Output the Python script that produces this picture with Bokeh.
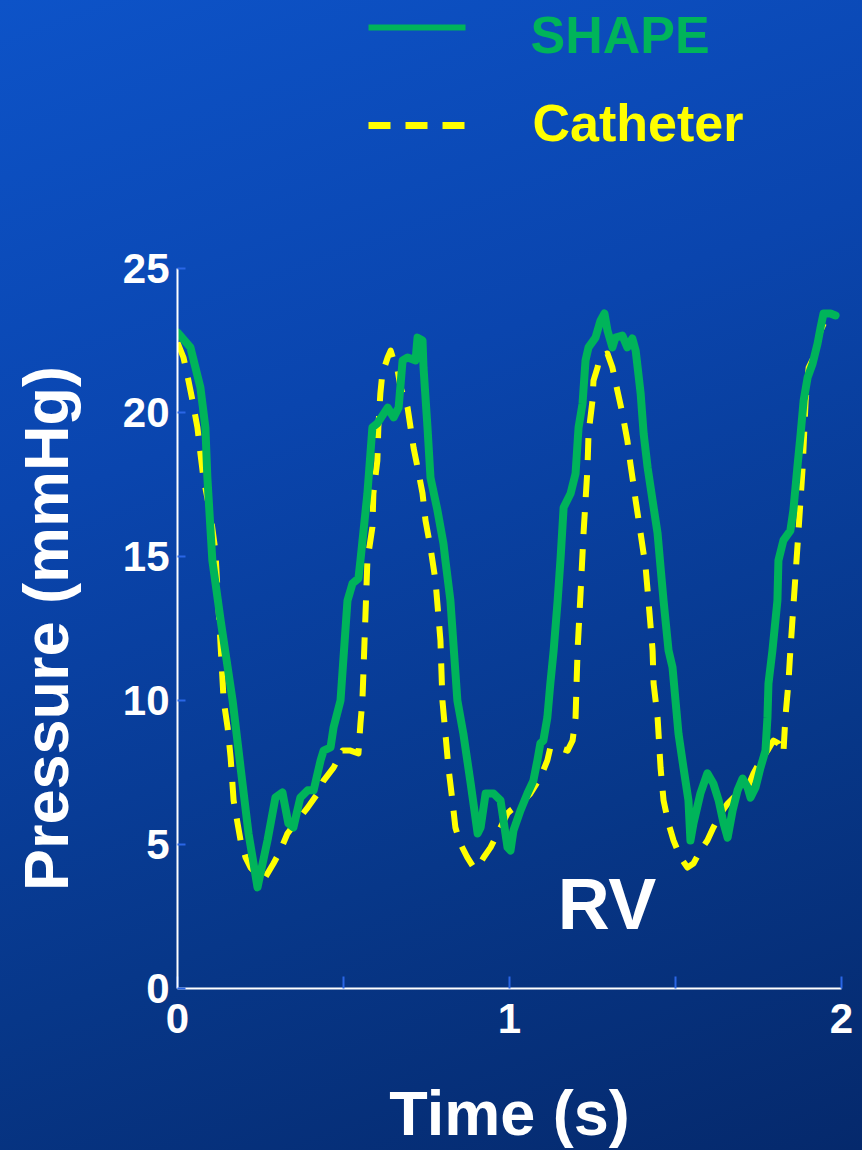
from bokeh.plotting import figure
from bokeh.layouts import column
from bokeh.models import Range1d, FixedTicker, Label, GlobalInlineStyleSheet
from bokeh.core.properties import value
from bokeh.embed import file_html
from bokeh.resources import INLINE

# ---------------- data ----------------
shape_t = [0.000, 0.039, 0.069, 0.084, 0.090, 0.099, 0.105, 0.130, 0.166, 0.190,
           0.214, 0.241, 0.271, 0.295, 0.316, 0.334, 0.349, 0.370, 0.392, 0.410,
           0.431, 0.440, 0.461, 0.470, 0.491, 0.512, 0.527, 0.545, 0.551, 0.572,
           0.587, 0.602, 0.633, 0.651, 0.666, 0.678, 0.693, 0.717, 0.723, 0.738,
           0.741, 0.753, 0.762, 0.783, 0.801, 0.807, 0.822, 0.843, 0.861, 0.883,
           0.904, 0.913, 0.928, 0.952, 0.973, 0.994, 1.003, 1.012, 1.033, 1.054,
           1.072, 1.084, 1.093, 1.102, 1.114, 1.123, 1.133, 1.145, 1.154, 1.163,
           1.184, 1.199, 1.208, 1.220, 1.229, 1.238, 1.259, 1.274, 1.286, 1.295,
           1.310, 1.319, 1.340, 1.355, 1.370, 1.380, 1.386, 1.395, 1.404, 1.416,
           1.431, 1.446, 1.455, 1.464, 1.479, 1.491, 1.500, 1.509, 1.524, 1.539,
           1.545, 1.554, 1.575, 1.596, 1.614, 1.630, 1.645, 1.657, 1.672, 1.687,
           1.702, 1.717, 1.726, 1.741, 1.756, 1.771, 1.777, 1.780, 1.792, 1.807,
           1.810, 1.825, 1.846, 1.855, 1.867, 1.877, 1.886, 1.898, 1.913, 1.928,
           1.937, 1.946, 1.967, 1.982]
shape_p = [22.78, 22.26, 20.87, 19.48, 17.74, 16.01, 14.86, 12.78, 10.00, 7.67,
           5.38, 3.51, 5.14, 6.63, 6.81, 5.73, 5.59, 6.63, 6.88, 6.88,
           7.92, 8.26, 8.37, 9.06, 10.00, 13.47, 14.06, 14.24, 14.86, 17.19,
           19.48, 19.62, 20.17, 19.83, 20.17, 21.81, 21.91, 21.81, 22.60, 22.50,
           21.56, 19.48, 17.74, 16.60, 15.45, 14.86, 13.47, 10.00, 8.85, 7.12,
           5.38, 5.59, 6.77, 6.77, 6.53, 4.90, 4.79, 5.49, 6.18, 6.77,
           7.22, 7.92, 8.51, 8.61, 9.41, 10.59, 11.74, 13.47, 14.97, 16.70,
           17.19, 17.88, 19.48, 20.31, 21.81, 22.26, 22.60, 23.19, 23.44, 22.85,
           22.26, 22.60, 22.67, 22.26, 22.57, 22.15, 21.56, 20.66, 19.27, 18.09,
           16.94, 15.80, 14.62, 13.47, 11.74, 11.15, 10.00, 8.85, 7.67, 6.53,
           5.14, 5.73, 6.77, 7.47, 7.12, 6.53, 5.73, 5.24, 6.18, 6.88,
           7.29, 6.98, 6.63, 6.98, 7.67, 8.26, 9.41, 10.59, 11.74, 13.47,
           14.86, 15.56, 15.90, 16.60, 18.09, 19.27, 20.42, 21.22, 21.70, 22.40,
           22.95, 23.44, 23.44, 23.37]

cath_t = [0.000, 0.018, 0.033, 0.045, 0.060, 0.069, 0.078, 0.099, 0.114, 0.139,
          0.151, 0.160, 0.169, 0.181, 0.190, 0.205, 0.220, 0.259, 0.289, 0.310,
          0.331, 0.361, 0.392, 0.422, 0.440, 0.470, 0.497, 0.521, 0.545, 0.551,
          0.557, 0.572, 0.587, 0.590, 0.602, 0.605, 0.611, 0.617, 0.633, 0.642,
          0.651, 0.663, 0.672, 0.693, 0.702, 0.711, 0.723, 0.738, 0.747, 0.762,
          0.777, 0.792, 0.798, 0.807, 0.816, 0.828, 0.837, 0.852, 0.873, 0.892,
          0.904, 0.922, 0.943, 0.964, 0.994, 1.003, 1.033, 1.063, 1.093, 1.114,
          1.123, 1.145, 1.175, 1.190, 1.199, 1.205, 1.214, 1.223, 1.235, 1.238,
          1.250, 1.253, 1.265, 1.274, 1.295, 1.310, 1.325, 1.340, 1.355, 1.364,
          1.373, 1.380, 1.395, 1.410, 1.416, 1.431, 1.434, 1.446, 1.455, 1.464,
          1.479, 1.494, 1.515, 1.536, 1.554, 1.575, 1.596, 1.614, 1.636, 1.657,
          1.675, 1.696, 1.717, 1.735, 1.756, 1.777, 1.795, 1.810, 1.825, 1.831,
          1.840, 1.846, 1.861, 1.870, 1.883, 1.892, 1.901, 1.916, 1.937, 1.961]
cath_p = [22.43, 21.91, 21.11, 20.42, 19.48, 18.58, 17.74, 16.49, 15.21, 10.00,
          9.06, 8.02, 6.53, 5.73, 5.14, 4.55, 4.20, 3.75, 4.34, 4.79,
          5.38, 5.83, 6.28, 6.77, 7.22, 7.67, 8.26, 8.26, 8.16, 9.20,
          10.00, 14.86, 16.01, 17.19, 18.33, 19.48, 20.66, 21.35, 21.91, 22.15,
          21.81, 21.46, 20.87, 20.17, 19.48, 18.78, 18.09, 17.19, 16.25, 15.31,
          14.17, 12.08, 10.00, 8.85, 7.67, 6.53, 5.59, 5.03, 4.55, 4.20,
          4.20, 4.55, 4.90, 5.38, 6.08, 6.18, 6.42, 6.77, 7.33, 7.92,
          8.37, 8.37, 8.26, 8.61, 9.41, 11.74, 13.72, 15.80, 18.09, 19.27,
          20.42, 21.11, 21.56, 21.98, 22.05, 21.56, 20.76, 19.97, 19.03, 18.23,
          17.53, 16.94, 15.80, 14.62, 13.82, 11.74, 10.59, 9.41, 7.67, 6.53,
          5.73, 5.14, 4.55, 4.20, 4.34, 4.79, 5.14, 5.59, 6.08, 6.42,
          6.63, 6.77, 6.98, 7.47, 7.92, 8.26, 8.61, 8.51, 8.16, 9.41,
          10.59, 11.74, 14.27, 15.80, 18.09, 20.42, 21.56, 21.91, 22.85, 23.44]

x_ticks = [0, 1, 2]
x_minor_ticks = [0.5, 1.5]
y_ticks = [0, 5, 10, 15, 20, 25]
series_names = ["SHAPE", "Catheter"]
panel_label = "RV"

# ---------------- style ----------------
GREEN = "#00b45a"
YELLOW = "#ffff00"
TICK_BLUE = "#2a66e6"
FONT = "Liberation Sans"
DASH = "22 15"
BORDER_L, BORDER_R = 177, 21

gradient_css = GlobalInlineStyleSheet(css=(
    "html{min-height:100%;background:linear-gradient(160deg,#0d53c8 0%,"
    "#0a45ae 35%,#073789 70%,#05296c 100%);}"
    "body{background:transparent;}"))

# ---------------- legend strip (top), pixel-like key space ----------------
leg_fig = figure(width=862, height=230,
                 x_range=Range1d(BORDER_L, 862 - BORDER_R),
                 y_range=Range1d(230, 0), output_backend="svg",
                 toolbar_location=None, x_axis_location=None,
                 y_axis_location=None, min_border=0,
                 min_border_left=BORDER_L, min_border_right=BORDER_R)
leg_fig.background_fill_alpha = 0
leg_fig.border_fill_alpha = 0
leg_fig.outline_line_color = None
leg_fig.grid.visible = False
leg_fig.stylesheets = [gradient_css]

key_x0, key_x1, key_text_x = 368, 465, 530
key_rows = [27, 125]
leg_fig.segment(x0=[key_x0], y0=[key_rows[0]], x1=[key_x1], y1=[key_rows[0]],
                line_color=GREEN, line_width=6)
leg_fig.segment(x0=[key_x0], y0=[key_rows[1]], x1=[key_x1], y1=[key_rows[1]],
                line_color=YELLOW, line_width=7, line_dash=DASH)
leg_fig.text(x=[key_text_x], y=[key_rows[0] + 7], text=[series_names[0]],
             text_color=GREEN, text_font=value(FONT), text_font_style="bold",
             text_font_size="52px", text_baseline="middle", text_align="left")
leg_fig.text(x=[key_text_x + 2], y=[key_rows[1] - 3], text=[series_names[1]],
             text_color=YELLOW, text_font=value(FONT), text_font_style="bold",
             text_font_size="52px", text_baseline="middle", text_align="left")

# ---------------- main chart ----------------
fig = figure(width=862, height=920,
             x_range=Range1d(0, 2), y_range=Range1d(0, 25),
             output_backend="svg", toolbar_location=None,
             min_border_left=BORDER_L, min_border_right=BORDER_R,
             min_border_top=38, min_border_bottom=162)
fig.background_fill_alpha = 0
fig.border_fill_alpha = 0
fig.outline_line_color = None
fig.grid.visible = False

r_cath = fig.line(cath_t, cath_p, line_color=YELLOW, line_width=6,
                  line_dash=DASH, line_join="round")
r_shape = fig.line(shape_t, shape_p, line_color=GREEN, line_width=8,
                   line_join="round", line_cap="round")

for ax in (fig.xaxis[0], fig.yaxis[0]):
    ax.axis_line_color = "white"
    ax.axis_line_width = 2
    ax.major_tick_line_color = TICK_BLUE
    ax.major_tick_line_width = 2
    ax.major_tick_out = 0
    ax.minor_tick_line_color = TICK_BLUE
    ax.minor_tick_line_width = 2
    ax.minor_tick_out = 0
    ax.major_label_text_color = "white"
    ax.major_label_text_font = FONT
    ax.major_label_text_font_style = "bold"
    ax.major_label_text_font_size = "42px"
    ax.axis_label_text_color = "white"
    ax.axis_label_text_font = FONT
    ax.axis_label_text_font_style = "bold"
    ax.axis_label_text_font_size = "63px"

xa = fig.xaxis[0]
xa.ticker = FixedTicker(ticks=x_ticks, minor_ticks=x_minor_ticks)
xa.major_tick_in = 12
xa.minor_tick_in = 12
xa.major_label_standoff = 15
xa.axis_label = "Time (s)"
xa.axis_label_standoff = 42

ya = fig.yaxis[0]
ya.ticker = FixedTicker(ticks=y_ticks)
ya.major_tick_in = 8
ya.minor_tick_in = 0
ya.major_label_standoff = 8
ya.axis_label = "Pressure (mmHg)"
ya.axis_label_standoff = 39

fig.add_layout(Label(x=1.145, y=2.93, text=panel_label, text_color="white",
                     text_font=FONT, text_font_style="bold",
                     text_font_size="72px", text_baseline="middle"))

p = column(leg_fig, fig, spacing=0)

open("out.html", "w").write(file_html(p, INLINE))
